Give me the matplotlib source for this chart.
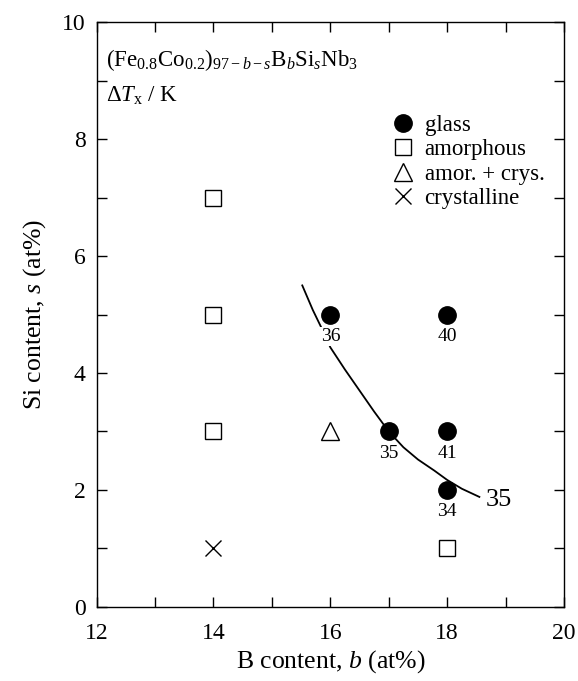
import matplotlib
matplotlib.use("Agg")
import matplotlib.pyplot as plt
from matplotlib.ticker import MultipleLocator

plt.rcParams['font.family'] = ['Liberation Serif', 'DejaVu Serif']
plt.rcParams['mathtext.fontset'] = 'custom'
plt.rcParams['mathtext.rm'] = 'Liberation Serif'
plt.rcParams['mathtext.it'] = 'Liberation Serif:italic'

# data
glass_b = [16, 18, 17, 18, 18]
glass_s = [5, 5, 3, 3, 2]
glass_dtx = ['36', '40', '35', '41', '34']

amor_b = [14, 14, 14, 18]
amor_s = [7, 5, 3, 1]

mixed_b = [16]
mixed_s = [3]

cryst_b = [14]
cryst_s = [1]

# iso-line of dTx = 35 K
curve_b = [15.52, 15.7, 15.85, 16.0, 16.25, 16.5, 16.75, 17.0, 17.25, 17.5, 17.78, 18.0, 18.25, 18.55]
curve_s = [5.5, 5.08, 4.77, 4.44, 4.06, 3.7, 3.34, 3.0, 2.73, 2.52, 2.33, 2.17, 2.02, 1.88]
curve_label = '35'

fig = plt.figure(figsize=(5.78, 6.81), dpi=100)
ax = fig.add_axes([0.167, 0.109, 0.809, 0.858])

ax.plot(curve_b, curve_s, color='black', lw=1.3, zorder=2)

ax.plot(glass_b, glass_s, 'o', color='black', ms=12.5, ls='none', label='glass', zorder=3)
ax.plot(amor_b, amor_s, 's', mfc='white', mec='black', mew=1.0, ms=12, ls='none', label='amorphous', zorder=3)
ax.plot(mixed_b, mixed_s, '^', mfc='white', mec='black', mew=1.0, ms=12.5, ls='none', label='amor. + crys.', zorder=3)
ax.plot(cryst_b, cryst_s, 'x', color='black', mew=1.0, ms=11.5, ls='none', label='crystalline', zorder=3)

for b, s, t in zip(glass_b, glass_s, glass_dtx):
    ax.annotate(t, (b, s), xytext=(0, -15.5), textcoords='offset points',
                ha='center', va='center', fontsize=14,
                bbox=dict(boxstyle='square,pad=0.05', fc='white', ec='none'), zorder=4)

ax.text(curve_b[-1] + 0.1, curve_s[-1] - 0.05, curve_label, fontsize=19, ha='left', va='center')

ax.text(0.021, 0.935, r'(Fe$_{\mathrm{0.8}}$Co$_{\mathrm{0.2}}$)$_{\mathrm{97}-b-s}$B$_b$Si$_s$Nb$_{\mathrm{3}}$',
        transform=ax.transAxes, fontsize=16.5, ha='left', va='center')
ax.text(0.021, 0.875, r'$\Delta T_{\mathrm{x}}$ / K', transform=ax.transAxes,
        fontsize=16.5, ha='left', va='center')

ax.legend(loc='upper left', bbox_to_anchor=(0.606, 0.862), frameon=False, fontsize=16.5,
          handletextpad=0.45, labelspacing=0.15, borderpad=0, handlelength=1.0)

ax.set_xlim(12, 20)
ax.set_ylim(0, 10)
ax.xaxis.set_major_locator(MultipleLocator(2))
ax.xaxis.set_minor_locator(MultipleLocator(1))
ax.yaxis.set_major_locator(MultipleLocator(2))
ax.yaxis.set_minor_locator(MultipleLocator(1))
ax.tick_params(which='both', direction='in', top=True, right=True, length=7, width=1)
ax.tick_params(axis='x', labelsize=17, pad=12)
ax.tick_params(axis='y', labelsize=17, pad=8)
for sp in ax.spines.values():
    sp.set_linewidth(1)

ax.set_xlabel(r'B content, $b$ (at%)', fontsize=18.5, labelpad=3)
ax.set_ylabel(r'Si content, $s$ (at%)', fontsize=18.5, labelpad=10)

fig.savefig('out.png', dpi=100)
